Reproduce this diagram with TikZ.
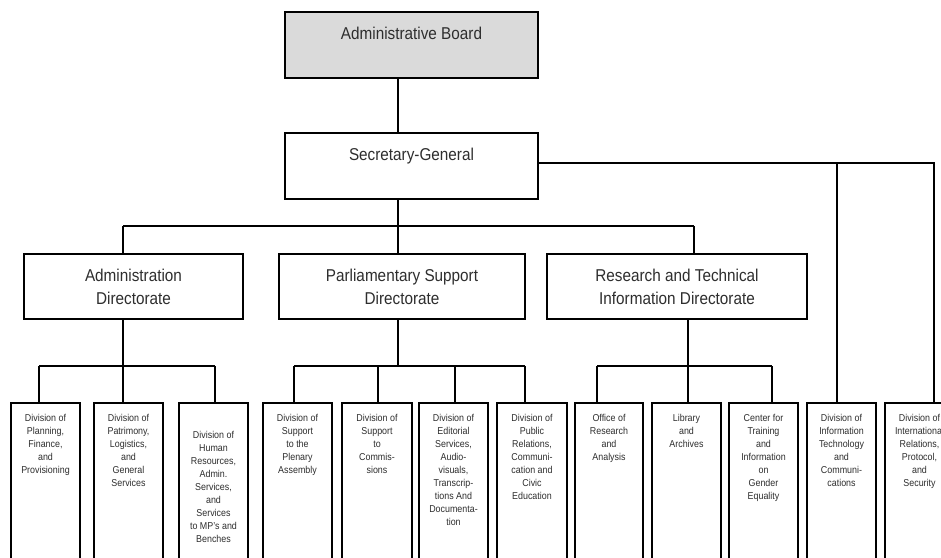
\documentclass[tikz,border=0pt]{standalone}
\usepackage{fontspec}
\setmainfont{Liberation Sans}
\usetikzlibrary{calc}
\definecolor{txt}{HTML}{2E2E2E}
\definecolor{boardfill}{HTML}{DADADA}
\begin{document}
\begin{tikzpicture}[x=1pt,y=-1pt,
  box/.style={draw=black, line width=1.4pt, inner sep=0pt, outer sep=0pt, anchor=north west},
  conn/.style={draw=black, line width=1.4pt},
  bigtxt/.style={font=\fontsize{15.3}{20.5}\selectfont, align=center, inner sep=0pt, text=txt, yscale=1.12},
  smalltxt/.style={font=\fontsize{8.9}{11.6}\selectfont, align=center, inner sep=0pt, text=txt, anchor=north, yscale=1.12}]
\useasboundingbox (0,0) rectangle (941,557);
\clip (0,0) rectangle (941,557);
\fill[white] (0,0) rectangle (941,557);

% top boxes
\node[box, fill=boardfill, minimum width=253pt, minimum height=66pt] (AB) at (285,12) {};
\node[bigtxt, yshift=10pt] (ABt) at (AB.center) {Administrative Board};
\node[box, minimum width=253pt, minimum height=66pt] (SG) at (285,133) {};
\node[bigtxt, yshift=8.5pt] (SGt) at (SG.center) {Secretary-General};

% directorates
\node[box, minimum width=219pt, minimum height=65pt] (AD) at (24,254) {};
\node[bigtxt] (ADt) at (AD.center) {Administration\\Directorate};
\node[box, minimum width=246pt, minimum height=65pt] (PD) at (279,254) {};
\node[bigtxt] (PDt) at (PD.center) {Parliamentary Support\\Directorate};
\node[box, minimum width=260pt, minimum height=65pt] (RD) at (547,254) {};
\node[bigtxt] (RDt) at (RD.center) {Research and Technical\\Information Directorate};

% divisions
\node[box, minimum width=69pt, minimum height=220pt] (d1) at (11,403) {};
\node[box, minimum width=69pt, minimum height=220pt] (d2) at (94,403) {};
\node[box, minimum width=69pt, minimum height=220pt] (d3) at (179,403) {};
\node[box, minimum width=69pt, minimum height=220pt] (d4) at (263,403) {};
\node[box, minimum width=70pt, minimum height=220pt] (d5) at (342,403) {};
\node[box, minimum width=69pt, minimum height=220pt] (d6) at (419,403) {};
\node[box, minimum width=70pt, minimum height=220pt] (d7) at (497,403) {};
\node[box, minimum width=68pt, minimum height=220pt] (d8) at (575,403) {};
\node[box, minimum width=69pt, minimum height=220pt] (d9) at (652,403) {};
\node[box, minimum width=69pt, minimum height=220pt] (d10) at (729,403) {};
\node[box, minimum width=69pt, minimum height=220pt] (d11) at (807,403) {};
\node[box, minimum width=69pt, minimum height=220pt] (d12) at (885,403) {};

\node[smalltxt, yshift=-10pt] (t1) at (d1.north) {Division of\\Planning,\\Finance,\\and\\Provisioning};
\node[smalltxt, yshift=-10pt] (t2) at (d2.north) {Division of\\Patrimony,\\Logistics,\\and\\General\\Services};
\node[smalltxt, yshift=-25pt] (t3) at (d3.north) {Division of\\Human\\Resources,\\Admin.\\Services,\\and\\Services\\to MP's and\\Benches};
\node[smalltxt, yshift=-10pt] (t4) at (d4.north) {Division of\\Support\\to the\\Plenary\\Assembly};
\node[smalltxt, yshift=-10pt] (t5) at (d5.north) {Division of\\Support\\to\\Commis-\\sions};
\node[smalltxt, yshift=-10pt] (t6) at (d6.north) {Division of\\Editorial\\Services,\\Audio-\\visuals,\\Transcrip-\\tions And\\Documenta-\\tion};
\node[smalltxt, yshift=-10pt] (t7) at (d7.north) {Division of\\Public\\Relations,\\Communi-\\cation and\\Civic\\Education};
\node[smalltxt, yshift=-10pt] (t8) at (d8.north) {Office of\\Research\\and\\Analysis};
\node[smalltxt, yshift=-10pt] (t9) at (d9.north) {Library\\and\\Archives};
\node[smalltxt, yshift=-10pt] (t10) at (d10.north) {Center for\\Training\\and\\Information\\on\\Gender\\Equality};
\node[smalltxt, yshift=-10pt] (t11) at (d11.north) {Division of\\Information\\Technology\\and\\Communi-\\cations};
\node[smalltxt, yshift=-10pt] (t12) at (d12.north) {Division of\\International\\Relations,\\Protocol,\\and\\Security};

% junction coordinates
\coordinate (c0) at (398,226);
\coordinate (bl) at (123,226);
\coordinate (br) at (694,226);
\coordinate (r1) at (837,163);
\coordinate (r2) at (934,163);
\coordinate (a1) at (39,366);
\coordinate (a2) at (123,366);
\coordinate (a3) at (215,366);
\coordinate (p1) at (294,366);
\coordinate (pc) at (398,366);
\coordinate (p2) at (378,366);
\coordinate (p3) at (455,366);
\coordinate (p4) at (525,366);
\coordinate (q1) at (597,366);
\coordinate (q2) at (688,366);
\coordinate (q3) at (772,366);

% connectors
\draw[conn] (AB.south -| c0) -- (SG.north -| c0);
\draw[conn] (SG.south -| c0) -- (c0);
\draw[conn] (bl) -- (br);
\draw[conn] (bl) -- (AD.north -| bl);
\draw[conn] (c0) -- (PD.north -| c0);
\draw[conn] (br) -- (RD.north -| br);
\draw[conn] (SG.east |- r1) -- (r2) -- (d12.north -| r2);
\draw[conn] (r1) -- (d11.north -| r1);

\draw[conn] (AD.south -| a2) -- (a2);
\draw[conn] (a1) -- (a3);
\draw[conn] (a1) -- (d1.north -| a1);
\draw[conn] (a2) -- (d2.north -| a2);
\draw[conn] (a3) -- (d3.north -| a3);

\draw[conn] (PD.south -| pc) -- (pc);
\draw[conn] (p1) -- (p4);
\draw[conn] (p1) -- (d4.north -| p1);
\draw[conn] (p2) -- (d5.north -| p2);
\draw[conn] (p3) -- (d6.north -| p3);
\draw[conn] (p4) -- (d7.north -| p4);

\draw[conn] (RD.south -| q2) -- (q2);
\draw[conn] (q1) -- (q3);
\draw[conn] (q1) -- (d8.north -| q1);
\draw[conn] (q2) -- (d9.north -| q2);
\draw[conn] (q3) -- (d10.north -| q3);
\end{tikzpicture}
\end{document}
